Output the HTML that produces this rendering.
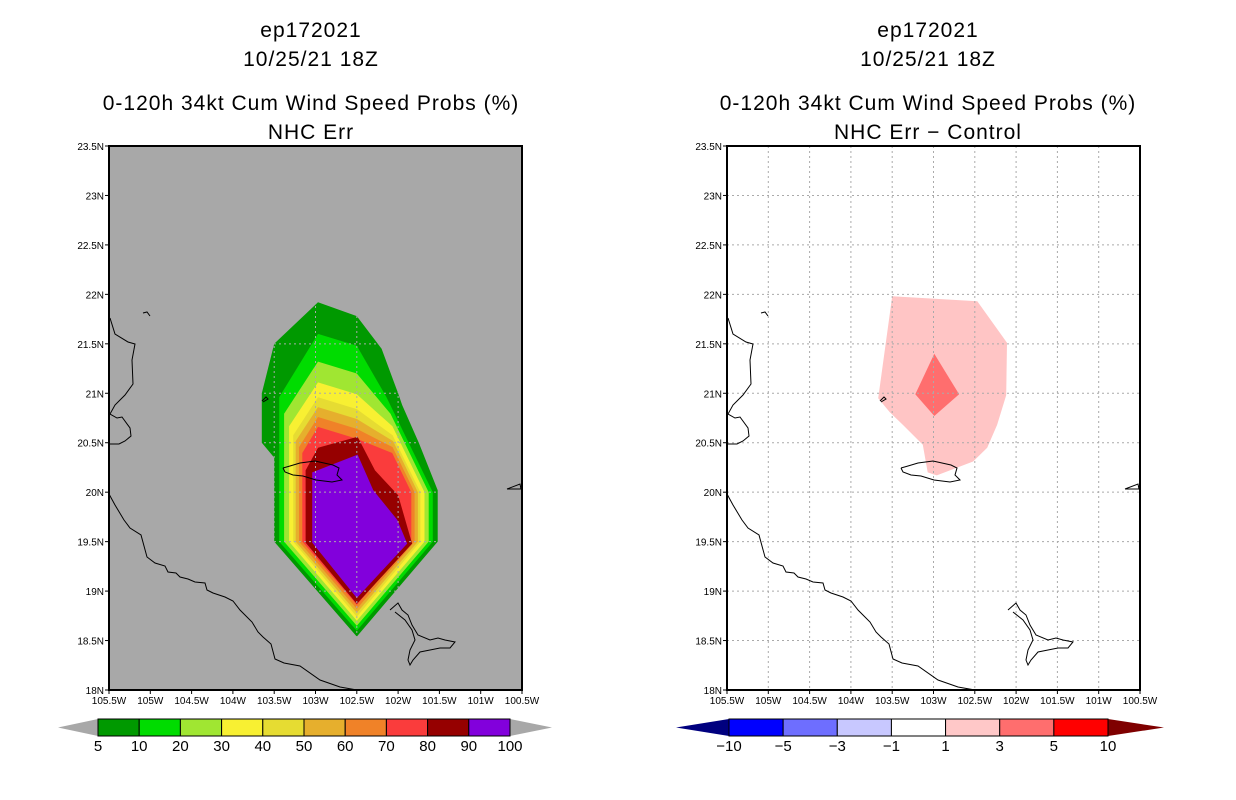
<!DOCTYPE html>
<html><head><meta charset="utf-8"><style>
html,body{margin:0;padding:0;background:#fff;}
svg{display:block;font-family:"Liberation Sans",sans-serif;}
.t{font-size:21px;text-anchor:middle;fill:#000;letter-spacing:1px}
.ax{font-size:10px;fill:#000}
.cb{font-size:15px;text-anchor:middle;fill:#000}
</style></head><body>
<svg id="s" width="1236" height="800" viewBox="0 0 1236 800" xmlns="http://www.w3.org/2000/svg">
<text class="t" x="311" y="37">ep172021</text>
<text class="t" x="311" y="66">10/25/21 18Z</text>
<text class="t" x="311" y="110">0-120h 34kt Cum Wind Speed Probs (%)</text>
<text class="t" x="311" y="139">NHC Err</text>
<text class="t" x="928" y="37">ep172021</text>
<text class="t" x="928" y="66">10/25/21 18Z</text>
<text class="t" x="928" y="110">0-120h 34kt Cum Wind Speed Probs (%)</text>
<text class="t" x="928" y="139">NHC Err − Control</text>
<g id="L"></g>
<g id="R"></g>
<g id="CB"></g>
</svg>
<script>
const NS="http://www.w3.org/2000/svg";
// ---- data ----
const lonTicks=[-105.5,-105,-104.5,-104,-103.5,-103,-102.5,-102,-101.5,-101,-100.5];
const latTicks=[18,18.5,19,19.5,20,20.5,21,21.5,22,22.5,23,23.5];
const probLevels=[5,10,20,30,40,50,60,70,80,90];
const probColors=["#009900","#00dc00","#a0e632","#f8f032","#e6dc32","#e6af2d","#f08228","#fa3c3c","#960000","#8200dc"];
const ringTop=[21.92,21.6,21.32,21.11,20.96,20.86,20.76,20.66,20.56,20.38];
const ringLeft=[-103.5,-103.44,-103.38,-103.32,-103.27,-103.24,-103.2,-103.16,-103.12,-103.04];
const ringRight=[-101.52,-101.58,-101.63,-101.68,-101.73,-101.76,-101.8,-101.84,-101.87,-101.9];
const ringBottom=[18.54,18.6,18.65,18.7,18.74,18.78,18.82,18.86,18.89,18.93];
const ring5=[[-102.97,21.92],[-102.5,21.78],[-102.2,21.45],[-102,21.0],[-101.95,20.88],[-101.75,20.5],[-101.52,20.02],[-101.52,19.5],[-102.5,18.54],[-103.5,19.5],[-103.5,20.35],[-103.65,20.5],[-103.65,21.0],[-103.5,21.5]];
const ring80=[[-102.49,20.56],[-102.28,20.22],[-102.0,19.97],[-101.83,19.48],[-102.5,18.87],[-103.12,19.49],[-103.12,20.22],[-102.97,20.45]];
const ring90=[[-102.49,20.38],[-102.3,20.02],[-102.01,19.72],[-101.89,19.48],[-102.5,18.93],[-103.04,19.49],[-103.04,20.2]];
const diffPink=[[-103.5,21.98],[-102.47,21.93],[-102.11,21.51],[-102.12,20.98],[-102.23,20.68],[-102.35,20.45],[-102.52,20.31],[-102.96,20.17],[-103.07,20.2],[-103.13,20.48],[-103.37,20.68],[-103.53,20.81],[-103.67,20.95]];
const diffRed=[[-102.99,21.4],[-102.69,20.99],[-102.99,20.77],[-103.22,20.99]];
const probLabels=["5","10","20","30","40","50","60","70","80","90","100"];
const diffLabels=["−10","−5","−3","−1","1","3","5","10"];
const diffColors=["#0000ff","#6e6eff","#c8c8ff","#ffffff","#ffc8c8","#ff6e6e","#ff0000"];
const coast1=[[110,318],[115,334],[128,342],[135,344],[132,360],[133,384],[125,395],[115,405],[110,414],[117,418],[122,417],[130,428],[131,436],[125,441],[119,444],[109,444]];
const coast2=[[109,494],[115,505],[124,520],[130,528],[141,535],[147,557],[155,563],[165,566],[168,572],[176,573],[180,577],[188,579],[195,582],[205,583],[207,590],[213,593],[225,597],[233,601],[240,610],[252,622],[258,632],[263,637],[271,644],[275,659],[284,663],[300,666],[320,680],[340,687],[357,690]];
const lake=[[283,468],[290,466],[300,463],[315,461],[333,465],[339,468],[337,475],[342,480],[332,482],[316,480],[303,476],[293,475],[285,472],[283,468]];
const bay=[[390,610],[398,603],[402,610],[408,615],[412,625],[418,635],[430,640],[438,638],[445,640],[455,642],[450,648],[440,648],[430,650],[420,652],[413,660],[410,665],[408,660],[410,650],[415,640],[412,630],[405,620],[395,612]];
const islet=[[143,313],[147,312],[150,316]];
const islet2=[[262,401],[266,397],[268,399],[263,402]];
const baja=[[507,489],[520,484],[521,489],[507,489]];

function el(tag,attrs,parent){const e=document.createElementNS(NS,tag);for(const k in attrs)e.setAttribute(k,attrs[k]);parent.appendChild(e);return e;}
const Y0=690,Y1=146;
function xs(x0){return lon=>x0+(lon+105.5)/5*413;}
function ys(lat){return Y0-(lat-18)/5.5*(Y0-Y1);}
function ringPts(i){
  const t=ringTop[i],l=ringLeft[i],r=ringRight[i],b=ringBottom[i];
  return [[-102.97,t],[-102.5,t-0.12],[r-0.35*(t-20),20+0.6*(t-20)],[r,20],[r,19.5],[-102.5,b],[l,19.5],[l,20+0.6*(t-20)]];
}
function drawPanel(g,x0,bg,polys,grid){
  const X=xs(x0);
  el('rect',{x:x0,y:Y1,width:413,height:Y0-Y1,fill:bg},g);
  const clipId='clip'+x0;
  const cp=el('clipPath',{id:clipId},g);
  polys.forEach((p,i)=>{
    const pts=p.pts.map(q=>X(q[0]).toFixed(1)+','+ys(q[1]).toFixed(1)).join(' ');
    const e=el('polygon',{points:pts,fill:p.color},g);
    
    
    if(i===0) el('polygon',{points:pts},cp);
  });
  const gg=el('g',grid==='clip'?{'clip-path':'url(#'+clipId+')'}:{},g);
  
  
  lonTicks.slice(1,-1).forEach(l=>el('line',{x1:X(l),x2:X(l),y1:Y1,y2:Y0,stroke:'#aaa','stroke-dasharray':'2,3'},gg));
  latTicks.slice(1,-1).forEach(l=>el('line',{x1:x0,x2:x0+413,y1:ys(l),y2:ys(l),stroke:'#aaa','stroke-dasharray':'2,3'},gg));
  const dx=x0-109;
  [coast1,coast2,lake,bay,islet,islet2,baja].forEach(c=>{
    const e=el('polyline',{points:c.map(q=>(q[0]+dx)+','+q[1]).join(' '),fill:'none',stroke:'#000','stroke-width':1},g);
    
    
  });
  const fr=el('rect',{x:x0,y:Y1,width:413,height:Y0-Y1,fill:'none',stroke:'#000','stroke-width':2},g);
  
  
  latTicks.forEach(l=>{
    el('line',{x1:x0-4,x2:x0,y1:ys(l),y2:ys(l),stroke:'#000'},g);
    const t=el('text',{x:x0-5,y:ys(l)+4,'text-anchor':'end',class:'ax'},g);
    t.textContent=(l%1===0?l:l.toFixed(1))+'N';
    
    
  });
  lonTicks.forEach(l=>{
    el('line',{x1:X(l),x2:X(l),y1:Y0,y2:Y0+4,stroke:'#000'},g);
    const t=el('text',{x:X(l),y:Y0+14,'text-anchor':'middle',class:'ax'},g);
    t.textContent=Math.abs(l)+'W';
    
    
  });
}
const leftPolys=probLevels.map((v,i)=>({pts:i===0?ring5:i===8?ring80:i===9?ring90:ringPts(i),color:probColors[i],name:'contour-'+v}));
drawPanel(document.getElementById('L'),109,'#a8a8a8',leftPolys,'clip');
drawPanel(document.getElementById('R'),727,'#ffffff',[{pts:diffPink,color:'#ffc5c5',name:'diff-1-3'},{pts:diffRed,color:'#ff6e6e',name:'diff-3-5'}],'all');

const CB=document.getElementById('CB');
function bar(x0,x1,tipL,tipR,colors,labels,lc,rc){
  const n=colors.length,w=(x1-x0)/n,y=719,h=17;
  let e=el('polygon',{points:`${tipL},${y+h/2} ${x0},${y} ${x0},${y+h}`,fill:lc},CB);
  
  
  e=el('polygon',{points:`${tipR},${y+h/2} ${x1},${y} ${x1},${y+h}`,fill:rc},CB);
  
  
  colors.forEach((c,i)=>{
    const r=el('rect',{x:x0+i*w,y:y,width:w,height:h,fill:c,stroke:'#000','stroke-width':1},CB);
    
    
  });
  labels.forEach((s,i)=>{
    const t=el('text',{x:x0+i*w,y:751,class:'cb'},CB);
    t.textContent=s;
    
    
  });
}
bar(98,510,58,552,probColors,probLabels,'#a8a8a8','#a8a8a8');
bar(729,1108,676,1164,diffColors,diffLabels,'#00007f','#7f0000');
</script>
</body></html>
